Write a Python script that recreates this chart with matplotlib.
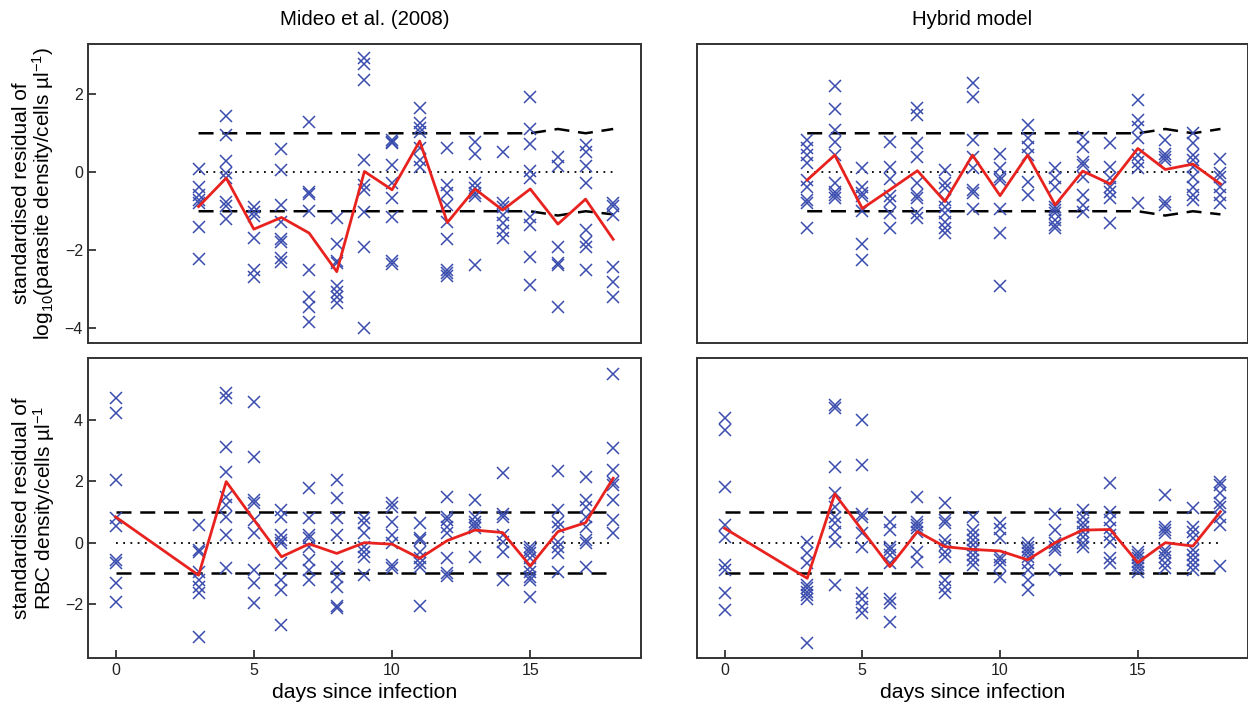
import matplotlib
matplotlib.use("Agg")
import matplotlib.pyplot as plt
import numpy as np

plt.rcParams['font.family'] = ['Liberation Sans', 'DejaVu Sans']
plt.rcParams['mathtext.fontset'] = 'custom'
plt.rcParams['mathtext.rm'] = 'Liberation Sans'
plt.rcParams['mathtext.it'] = 'Liberation Sans:italic'

days_top = [3, 4, 5, 6, 7, 8, 9, 10, 11, 12, 13, 14, 15, 16, 17, 18]
days_bot = [0, 3, 4, 5, 6, 7, 8, 9, 10, 11, 12, 13, 14, 15, 16, 17, 18]

# +/- 1 sd bands for the parasite panels (wobble at the end)
band_hi_top = [1, 1, 1, 1, 1, 1, 1, 1, 1, 1, 1, 1, 1, 1.11, 1.0, 1.11]
band_lo_top = [-1, -1, -1, -1, -1, -1, -1, -1, -1, -1, -1, -1, -1, -1.11, -1.0, -1.08]
band_hi_bot = [1, 1, 1, 1, 1, 1, 1, 1, 1, 1, 1, 1, 1, 1, 1, 1, 1]
band_lo_bot = [-1, -1, -1, -1, -1, -1, -1, -1, -1, -1, -1, -1, -1, -1, -1, -1, -1]

mideo_par = [
    [0.08, -0.37, -0.58, -0.71, -0.80, -1.40, -2.22],
    [1.44, 0.96, 0.30, -0.03, -0.15, -0.77, -0.86, -1.20],
    [-0.88, -1.01, -1.12, -1.69, -2.50, -2.69],
    [0.59, 0.06, -0.84, -1.27, -1.72, -1.80, -2.20, -2.29],
    [1.30, -0.50, -0.57, -0.99, -2.50, -3.19, -3.45, -3.83],
    [-1.18, -1.84, -2.27, -2.32, -2.93, -3.06, -3.19, -3.36],
    [2.92, 2.79, 2.37, 0.32, -0.33, -0.45, -1.01, -1.91, -4.00],
    [0.83, 0.78, 0.74, 0.19, -0.28, -0.67, -1.14, -2.28, -2.36],
    [1.64, 1.26, 1.13, 1.04, 0.62, 0.32, 0.14],
    [0.62, -0.32, -0.54, -0.84, -1.27, -1.72, -2.50, -2.58, -2.67],
    [0.78, 0.48, -0.28, -0.41, -0.54, -0.62, -2.38],
    [0.53, -0.80, -0.88, -1.09, -1.31, -1.50, -1.69],
    [1.92, 1.10, 0.72, 0.03, -0.16, -1.14, -1.35, -2.17, -2.89],
    [0.40, 0.16, -1.92, -2.32, -2.38, -3.45],
    [0.70, 0.53, 0.16, -0.28, -1.48, -1.78, -1.92, -2.50],
    [-0.80, -0.86, -1.09, -2.43, -2.81, -3.21],
]
mideo_par_mean = [-0.88, -0.15, -1.46, -1.16, -1.56, -2.55, 0.02, -0.45,
                  0.80, -1.29, -0.43, -0.97, -0.43, -1.33, -0.69, -1.72]

hybrid_par = [
    [0.83, 0.62, 0.44, 0.23, -0.20, -0.37, -0.71, -0.80, -1.44],
    [2.21, 1.62, 1.08, 0.78, 0.44, -0.28, -0.50, -0.58, -0.67],
    [0.10, -0.37, -0.54, -0.62, -0.99, -1.84, -2.25],
    [0.78, 0.14, -0.18, -0.62, -0.75, -1.05, -1.44],
    [1.64, 1.47, 0.74, 0.40, -0.28, -0.58, -0.67, -1.05, -1.18],
    [0.06, -0.28, -0.41, -0.71, -0.88, -1.05, -1.27, -1.44, -1.56],
    [2.28, 1.94, 0.83, 0.40, 0.10, -0.45, -0.54, -0.93],
    [0.48, 0.10, -0.11, -0.20, -0.93, -1.55, -2.93],
    [1.21, 0.87, 0.66, 0.44, -0.24, -0.58],
    [0.10, -0.16, -0.37, -0.88, -0.97, -1.05, -1.22, -1.35, -1.44],
    [0.91, 0.66, 0.27, 0.19, -0.11, -0.58, -0.84, -1.01],
    [0.76, 0.14, -0.16, -0.37, -0.50, -0.67, -1.31],
    [1.85, 1.34, 1.17, 0.87, 0.44, 0.27, 0.10, -0.78],
    [0.83, 0.48, 0.40, 0.31, -0.76, -0.84],
    [1.00, 0.74, 0.44, 0.31, 0.14, -0.11, -0.37, -0.58, -0.71],
    [0.35, -0.03, -0.11, -0.37, -0.58, -0.80],
]
hybrid_par_mean = [-0.20, 0.44, -0.93, -0.45, 0.04, -0.75, 0.44, -0.60,
                   0.44, -0.84, 0.03, -0.30, 0.61, 0.07, 0.21, -0.30]

mideo_rbc = [
    [4.71, 4.24, 2.04, 0.79, 0.54, -0.56, -0.65, -1.32, -1.92],
    [0.58, -0.24, -0.32, -0.95, -1.22, -1.43, -1.65, -3.06],
    [4.87, 4.71, 3.11, 2.32, 1.50, 1.23, 0.84, 0.25, -0.84],
    [4.60, 2.80, 1.39, 1.28, 0.74, 0.30, -0.89, -1.32, -1.97],
    [1.07, 0.84, 0.25, 0.09, -0.02, -0.67, -1.22, -1.54, -2.68],
    [1.77, 0.79, 0.25, 0.14, -0.13, -0.56, -0.89, -1.22],
    [2.04, 1.45, 0.80, 0.25, -0.78, -1.11, -1.43, -2.06, -2.14],
    [0.80, 0.63, 0.31, -0.13, -0.29, -0.46, -1.05],
    [1.28, 1.17, 0.68, 0.25, -0.02, -0.73, -0.84],
    [0.63, 0.14, 0.09, -0.29, -0.51, -0.67, -0.78, -2.06],
    [1.50, 0.84, 0.74, 0.52, 0.30, -0.51, -1.00, -1.09],
    [1.39, 0.84, 0.68, 0.58, 0.47, -0.46],
    [2.26, 0.95, 0.84, 0.25, 0.03, -0.30, -1.22],
    [-0.13, -0.24, -0.35, -0.51, -0.78, -0.95, -1.11, -1.22, -1.76],
    [2.35, 1.06, 0.68, 0.52, 0.03, -0.13, -0.35, -0.95],
    [2.15, 1.39, 1.17, 0.84, 0.52, 0.09, -0.02, -0.78],
    [5.50, 3.08, 2.37, 1.99, 1.88, 1.39, 0.74, 0.30],
]
mideo_rbc_mean = [0.84, -1.06, 1.99, 0.75, -0.46, -0.04, -0.35, 0.00, -0.05,
                  -0.51, 0.07, 0.41, 0.33, -0.76, 0.36, 0.65, 2.10]

hybrid_rbc = [
    [4.06, 3.67, 1.83, 0.58, 0.20, -0.73, -0.89, -1.65, -2.19],
    [0.03, -0.35, -0.67, -1.38, -1.49, -1.60, -1.71, -1.82, -3.28],
    [4.49, 4.38, 2.48, 1.61, 1.17, 0.84, 0.63, 0.36, 0.03, -1.38],
    [4.00, 2.53, 0.95, 0.84, 0.30, -0.13, -1.65, -1.82, -2.09, -2.30],
    [0.68, 0.41, -0.13, -0.24, -0.40, -0.67, -1.82, -1.98, -2.58],
    [1.50, 0.68, 0.58, 0.47, 0.36, -0.29, -0.62],
    [1.28, 0.74, 0.63, 0.09, -0.07, -0.29, -0.46, -1.22, -1.43, -1.65],
    [0.85, 0.41, 0.25, 0.09, -0.07, -0.24, -0.40, -0.56, -0.73],
    [0.63, 0.45, 0.14, -0.46, -0.56, -0.73, -1.11],
    [-0.02, -0.13, -0.24, -0.35, -0.46, -0.67, -0.89, -1.22, -1.54],
    [0.95, 0.41, -0.02, -0.13, -0.24, -0.89],
    [1.06, 0.84, 0.63, 0.52, 0.36, 0.20, -0.02, -0.13],
    [1.96, 1.01, 0.74, 0.47, 0.25, 0.03, -0.51, -0.67],
    [-0.29, -0.40, -0.51, -0.62, -0.73, -0.84, -0.95],
    [1.55, 0.52, 0.41, 0.30, -0.24, -0.35, -0.46, -0.67, -0.84],
    [1.12, 0.52, 0.36, 0.14, -0.24, -0.40, -0.56, -0.73, -0.89],
    [1.99, 1.88, 1.61, 1.28, 1.17, 0.84, 0.58, -0.76],
]
hybrid_rbc_mean = [0.47, -1.16, 1.59, 0.40, -0.78, 0.36, -0.13, -0.22, -0.27,
                   -0.56, 0.00, 0.41, 0.43, -0.65, 0.00, -0.11, 1.01]

fig = plt.figure(figsize=(12.48, 7.11), dpi=100)
ax_tl = fig.add_axes([0.0705, 0.5176, 0.443, 0.4205])
ax_tr = fig.add_axes([0.5585, 0.5176, 0.4415, 0.4205])
ax_bl = fig.add_axes([0.0705, 0.0745, 0.443, 0.4220])
ax_br = fig.add_axes([0.5585, 0.0745, 0.4415, 0.4220])

blue = '#3a4cae'


def panel(ax, days, pts, mean, hi, lo, ylim):
    xs = np.concatenate([[d] * len(p) for d, p in zip(days, pts)])
    ys = np.concatenate(pts)
    ax.plot(days, hi, color='black', ls=(0, (6, 3.5)), lw=1.8, zorder=2)
    ax.plot(days, lo, color='black', ls=(0, (6, 3.5)), lw=1.8, zorder=2)
    ax.plot([days[0], days[-1]], [0, 0], color='black', ls=(0, (1, 3)), lw=1.3, zorder=2)
    ax.plot(xs, ys, 'x', color=blue, ms=9, mew=1.1, zorder=3)
    ax.plot(days, mean, color='#e8231f', lw=2, zorder=4)
    ax.set_xlim(-1, 19)
    ax.set_ylim(*ylim)
    ax.tick_params(direction='in', length=6, width=1.2, labelsize=11.5, colors='#222')
    for s in ax.spines.values():
        s.set_color('#333333')
        s.set_linewidth(1.4)


panel(ax_tl, days_top, mideo_par, mideo_par_mean, band_hi_top, band_lo_top, (-4.38, 3.29))
panel(ax_tr, days_top, hybrid_par, hybrid_par_mean, band_hi_top, band_lo_top, (-4.38, 3.29))
panel(ax_bl, days_bot, mideo_rbc, mideo_rbc_mean, band_hi_bot, band_lo_bot, (-3.76, 6.02))
panel(ax_br, days_bot, hybrid_rbc, hybrid_rbc_mean, band_hi_bot, band_lo_bot, (-3.76, 6.02))

ax_tl.set_yticks([-4, -2, 0, 2])
ax_bl.set_yticks([-2, 0, 2, 4])
for ax in (ax_tl, ax_tr):
    ax.set_xticks([])
for ax in (ax_tr, ax_br):
    ax.set_yticks([])
for ax in (ax_bl, ax_br):
    ax.set_xticks([0, 5, 10, 15])
    ax.set_xlabel('days since infection', fontsize=15.3, labelpad=4)

ax_tl.set_title('Mideo et al. (2008)', fontsize=14.7, pad=14)
ax_tr.set_title('Hybrid model', fontsize=14.7, pad=14)
ax_tl.set_ylabel('standardised residual of\nlog$_{10}$(parasite density/cells µl$^{-1}$)',
                 fontsize=15, labelpad=6, linespacing=1.0)
ax_bl.set_ylabel('standardised residual of\nRBC density/cells µl$^{-1}$',
                 fontsize=15, labelpad=6, linespacing=1.0)

fig.savefig('out.png', dpi=100)
